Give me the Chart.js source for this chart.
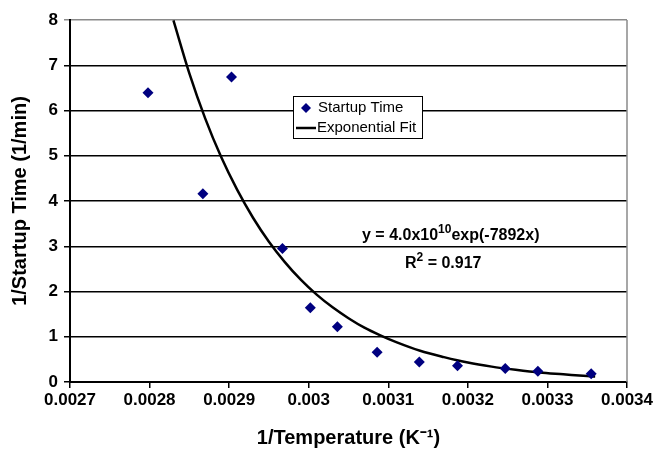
<!DOCTYPE html>
<html>
<head>
<meta charset="utf-8">
<script src="https://cdn.jsdelivr.net/npm/chart.js@4"></script>
<style>
  html, body { margin: 0; padding: 0; background: #fff; }
  #wrap { width: 655px; height: 450px; }
</style>
</head>
<body>
<div id="wrap"><canvas id="myChart" width="655" height="450"></canvas></div>
<script>
  // measured points
  var invTemp = [0.002798, 0.002867, 0.002903, 0.002967, 0.003002, 0.003036,
                 0.003086, 0.003139, 0.003187, 0.003247, 0.003288, 0.003355];
  var invStartup = [6.39, 4.16, 6.74, 2.95, 1.64, 1.22, 0.66, 0.44, 0.36, 0.30, 0.24, 0.18];

  // exponential trendline
  var fitX = [0.00283, 0.00285, 0.00287, 0.00289, 0.00291, 0.00293, 0.00295, 0.00297,
              0.00299, 0.00301, 0.00303, 0.00305, 0.00307, 0.00309, 0.00311, 0.00314,
              0.00317, 0.00320, 0.00323, 0.00326, 0.00329, 0.00332, 0.00335, 0.00336];
  var fitY = [7.99, 6.82, 5.82, 4.97, 4.25, 3.63, 3.10, 2.65,
              2.26, 1.93, 1.65, 1.41, 1.20, 1.03, 0.88, 0.69,
              0.55, 0.43, 0.34, 0.27, 0.21, 0.17, 0.13, 0.12];

  var xTicks = [0.0027, 0.0028, 0.0029, 0.003, 0.0031, 0.0032, 0.0033, 0.0034];
  var yTicks = [0, 1, 2, 3, 4, 5, 6, 7, 8];

  var FONT = 'Liberation Sans, Arial, sans-serif';

  // legend box + equation text + right border
  var extras = {
    id: 'extras',
    afterDatasetsDraw: function (chart) {
      var c = chart.ctx, a = chart.chartArea;
      c.save();
      // right frame line
      c.strokeStyle = '#8a8a8a';
      c.lineWidth = 1.5;
      c.beginPath();
      c.moveTo(a.right, a.top);
      c.lineTo(a.right, a.bottom);
      c.stroke();

      // legend
      c.fillStyle = '#fff';
      c.fillRect(293, 96, 130, 42);
      c.strokeStyle = '#000';
      c.lineWidth = 1;
      c.strokeRect(293.5, 96.5, 129, 42);
      c.fillStyle = '#000080';
      c.beginPath();
      c.moveTo(306, 103); c.lineTo(311, 108); c.lineTo(306, 113); c.lineTo(301, 108);
      c.closePath(); c.fill();
      c.strokeStyle = '#000';
      c.lineWidth = 2.5;
      c.beginPath(); c.moveTo(296, 128); c.lineTo(316, 128); c.stroke();
      c.fillStyle = '#000';
      c.font = '15px ' + FONT;
      c.textBaseline = 'middle';
      c.fillText('Startup Time', 318, 108);
      c.fillText('Exponential Fit', 317, 128);

      // equation
      c.font = 'bold 16px ' + FONT;
      c.textBaseline = 'alphabetic';
      var x = 362, y = 240;
      c.fillText('y = 4.0x10', x, y);
      x += c.measureText('y = 4.0x10').width;
      c.font = 'bold 12px ' + FONT;
      c.fillText('10', x, y - 7);
      x += c.measureText('10').width;
      c.font = 'bold 16px ' + FONT;
      c.fillText('exp(-7892x)', x, y);

      x = 405; y = 268;
      c.fillText('R', x, y);
      x += c.measureText('R').width;
      c.font = 'bold 12px ' + FONT;
      c.fillText('2', x, y - 7);
      x += c.measureText('2').width;
      c.font = 'bold 16px ' + FONT;
      c.fillText(' = 0.917', x, y);
      c.restore();
    }
  };

  var ctx = document.getElementById('myChart').getContext('2d');

  var myChart = new Chart(ctx, {
    type: 'scatter',
    data: {
      datasets: [{
        label: 'Exponential Fit',
        data: fitX.map(function (v, i) { return { x: v, y: fitY[i] }; }),
        showLine: true,
        borderColor: '#000',
        borderWidth: 2.5,
        pointRadius: 0,
        cubicInterpolationMode: 'monotone',
        order: 2
      }, {
        label: 'Startup Time',
        data: invTemp.map(function (v, i) { return { x: v, y: invStartup[i] }; }),
        pointStyle: 'rectRot',
        pointRadius: 5.5,
        backgroundColor: '#000080',
        borderColor: '#000080',
        borderWidth: 0,
        order: 1
      }]
    },
    options: {
      responsive: false,
      animation: false,
      layout: { padding: { left: 0, right: 27, top: 20, bottom: 0 } },
      plugins: { legend: { display: false }, tooltip: { enabled: false } },
      scales: {
        x: {
          type: 'linear',
          min: 0.0027,
          max: 0.0034,
          afterBuildTicks: function (s) { s.ticks = xTicks.map(function (v) { return { value: v }; }); },
          afterFit: function (s) { s.height = 68; },
          ticks: {
            color: '#000',
            font: { family: FONT, size: 17, weight: 'bold' },
            padding: 2,
            maxRotation: 0,
            callback: function (v) { return String(+v.toFixed(4)); }
          },
          grid: { drawOnChartArea: false, drawTicks: true, tickLength: 6, color: '#000', lineWidth: 1.5 },
          border: { color: '#000', width: 2 },
          title: {
            display: true,
            text: '1/Temperature (K\u207B\u00B9)',
            color: '#000',
            font: { family: FONT, size: 20, weight: 'bold' },
            padding: { top: 6, bottom: 0 }
          }
        },
        y: {
          min: 0,
          max: 8,
          afterBuildTicks: function (s) { s.ticks = yTicks.map(function (v) { return { value: v }; }); },
          afterFit: function (s) { s.width = 70; },
          ticks: {
            color: '#000',
            font: { family: FONT, size: 17, weight: 'bold' },
            padding: 6
          },
          grid: {
            drawTicks: true,
            tickLength: 6,
            lineWidth: 1.5,
            color: function (c) { return c.tick && c.tick.value === 8 ? '#8a8a8a' : '#000'; }
          },
          border: { color: '#000', width: 2 },
          title: {
            display: true,
            text: '1/Startup Time (1/min)',
            color: '#000',
            font: { family: FONT, size: 20, weight: 'bold' },
            padding: { top: 8, bottom: 2 }
          }
        }
      }
    },
    plugins: [extras]
  });
</script>
</body>
</html>
